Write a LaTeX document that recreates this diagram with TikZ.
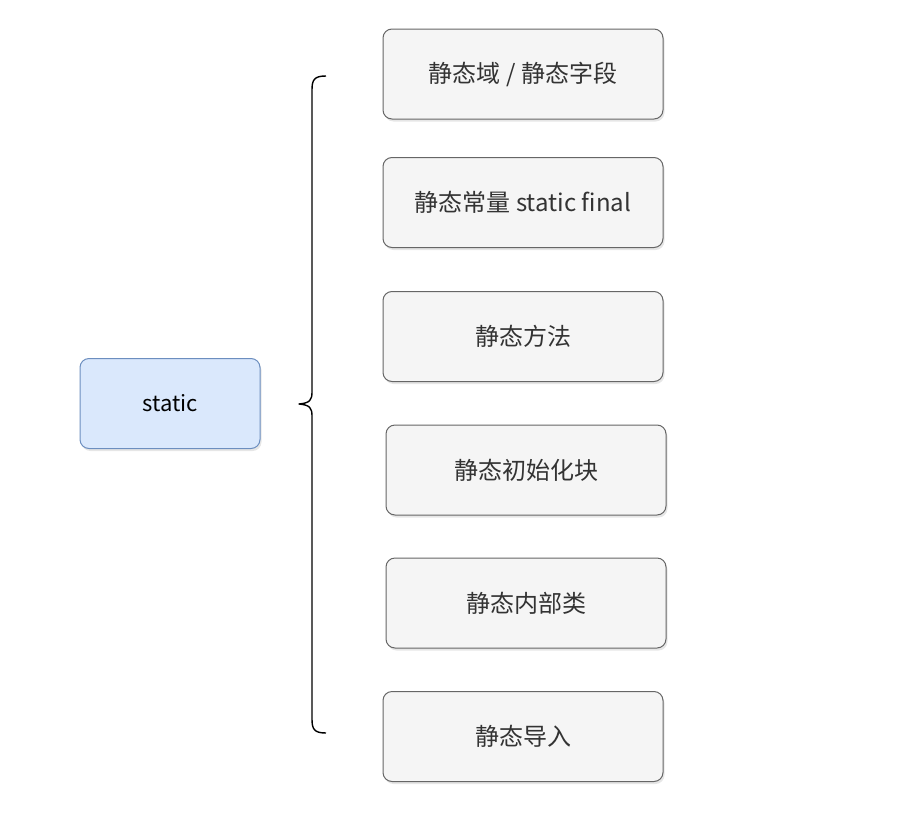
\documentclass[tikz,border=0pt]{standalone}
\usepackage{fontspec}
\setmainfont{Noto Sans CJK SC}
\usetikzlibrary{shadows}

\definecolor{rootfill}{HTML}{DAE8FC}
\definecolor{rootline}{HTML}{6C8EBF}
\definecolor{leaffill}{HTML}{F5F5F5}
\definecolor{leafline}{HTML}{666666}
\definecolor{leaftext}{HTML}{333333}

\tikzset{
	root/.style={draw=rootline, fill=rootfill, rounded corners=9pt, minimum width=180pt,
		minimum height=90pt, font=\fontsize{22}{26}\selectfont, text=black,
		drop shadow={opacity=0.2, shadow xshift=1.5pt, shadow yshift=-2.5pt}},
	leaf/.style={draw=leafline, fill=leaffill, rounded corners=9pt, minimum width=280pt,
		minimum height=90pt, font=\fontsize{24}{28}\selectfont, text=leaftext,
		drop shadow={opacity=0.2, shadow xshift=1.5pt, shadow yshift=-2.5pt}}
}

\begin{document}
\begin{tikzpicture}[x=1pt, y=-1pt, line width=1pt]

		%%% canvas
		\useasboundingbox (0,0) rectangle (905,830);

		% ROOT
		\node[root] (static) at (170,403.5) {static};

		% BRACE
		\draw[line width=1.4pt, line join=round]
			(326,76) .. controls (314,76) and (312,80) .. (312,90)
			-- (312,392) .. controls (312,400) and (310,403) .. (299,404)
			.. controls (310,405) and (312,408) .. (312,416)
			-- (312,719) .. controls (312,729) and (314,733) .. (326,733);

		% FIELDS
		\node[leaf] (field) at (523,74) {静态域 / 静态字段};

		% CONSTANTS
		\node[leaf] (const) at (523,202.5) {静态常量 static final};

		% METHODS
		\node[leaf] (method) at (523,336.5) {静态方法};

		% INIT BLOCK
		\node[leaf] (init) at (526,470) {静态初始化块};

		% NESTED CLASS
		\node[leaf] (nested) at (526,603) {静态内部类};

		% IMPORT
		\node[leaf] (import) at (523,736.5) {静态导入};

	\end{tikzpicture}
\end{document}
